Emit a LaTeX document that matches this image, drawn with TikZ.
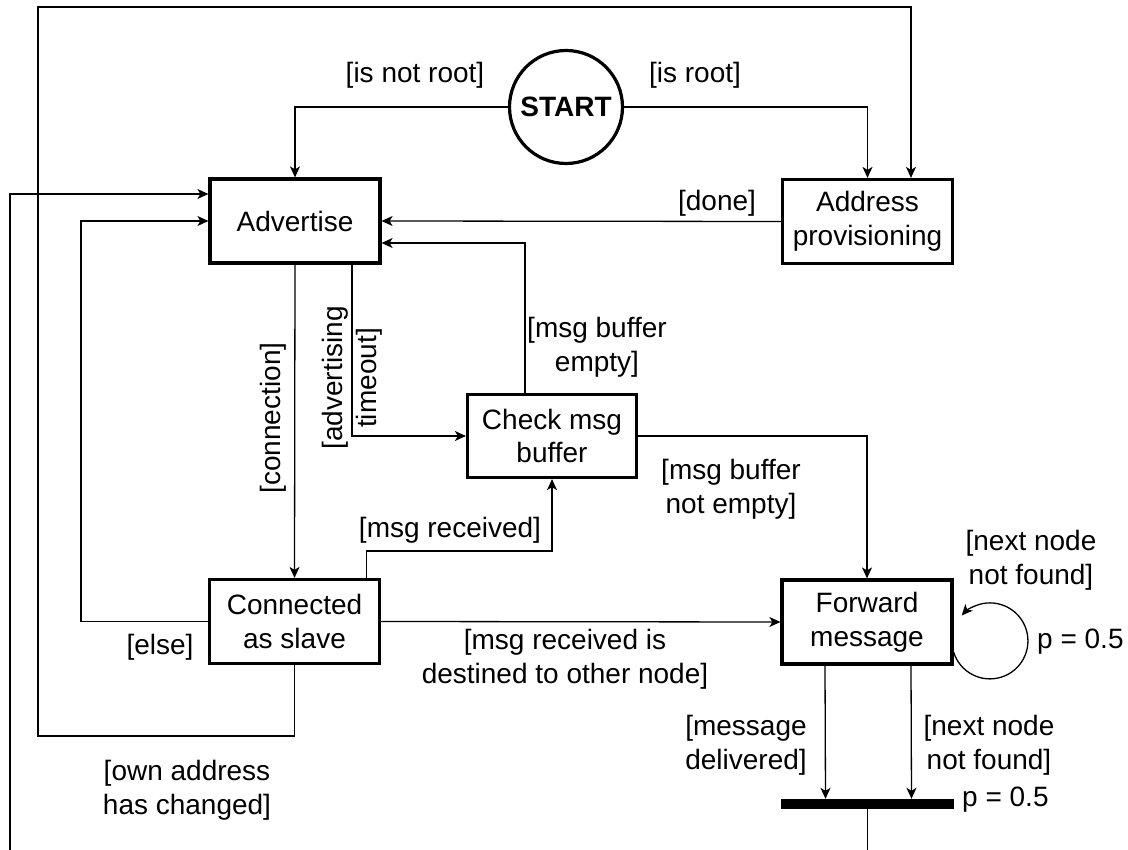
\documentclass[tikz,border=0pt]{standalone}
\usepackage{fontspec}
\setmainfont{Liberation Sans}
\usetikzlibrary{arrows.meta}
\begin{document}
\begin{tikzpicture}[x=1pt,y=-1pt,
  every node/.style={font=\fontsize{28}{33.6}\selectfont},
  state/.style={draw, line width=3.2pt, minimum width=170pt, minimum height=84pt,
    align=center, inner sep=0pt},
  conn/.style={line width=1.3pt, -{Stealth[length=11pt,width=10pt,inset=3pt]}},
  lbl/.style={align=center, inner sep=0pt}]
\useasboundingbox (0,0) rectangle (1128,850);

% states
\node[circle, draw, line width=3.2pt, minimum size=113pt, inner sep=0pt,
  font=\fontsize{28}{33.6}\selectfont\bfseries] (start) at (566,107) {START};
\node[state] (adv)  at (295,221)   {Advertise};
\node[state] (addr) at (867.5,221.5) {Address\\provisioning};
\node[state, minimum width=169pt, minimum height=83pt] (chk) at (552,436) {Check msg\\buffer};
\node[state] (con)  at (294.5,621.5) {Connected\\as slave};
\node[state] (fwd)  at (867,622)   {Forward\\message};
\node[fill, minimum width=173pt, minimum height=10pt, inner sep=0pt] (bar) at (867.5,804) {};

% transitions
\draw[conn] (start.west) -| (adv.north);
\draw[conn] (start.east) -| (addr.north);
\draw[conn] (addr.west) -- (adv.east);
\draw[conn] (adv.south) -- (con.north);
\draw[conn] ([xshift=57pt]adv.south) |- (chk.west);
\draw[conn] ([xshift=-27pt]chk.north) |- ([yshift=-22pt]adv.east);
\draw[conn] (chk.east) -| (fwd.north);
\draw[conn] ([xshift=72pt]con.north) -- ++(0,-27) -| (chk.south);
\draw[conn] (con.east) -- (fwd.west);
\draw[conn] (con.west) -- ++(-127,0) |- (adv.west);
\draw[conn] (con.south) -- ++(0,71) -| (38,7) -| ([xshift=43.5pt]addr.north);
\draw[conn] (bar.south) -- ++(0,60) -| (10,194) -- ([yshift=27pt]adv.west);
\draw[conn] ([yshift=-30pt]fwd.east) arc (163:-138:38);
\draw[conn] ([xshift=-42pt]fwd.south) -- ([xshift=-42pt]bar.north);
\draw[conn] ([xshift=44pt]fwd.south) -- ([xshift=44pt]bar.north);

% guards
\node[lbl] (gnotroot) at (415,75) {[is not root]};
\node[lbl] (groot) at (695,75) {[is root]};
\node[lbl] (gdone) at (717,203) {[done]};
\node[lbl, rotate=90] (gconn) at (273,418) {[connection]};
\node[lbl, rotate=90] (gadv) at (352,378) {[advertising\\timeout]};
\node[lbl] (gempty) at (597,347) {[msg buffer\\empty]};
\node[lbl] (gnotempty) at (731,489) {[msg buffer\\not empty]};
\node[lbl] (grecv) at (450,530) {[msg received]};
\node[lbl] (gdest) at (565,659) {[msg received is\\destined to other node]};
\node[lbl] (gelse) at (160,647) {[else]};
\node[lbl] (gown) at (187,790) {[own address\\has changed]};
\node[lbl] (gdeliv) at (746,745) {[message\\delivered]};
\node[lbl] (gnf1) at (989,745) {[next node\\not found]};
\node[lbl] (gnf2) at (1031,560) {[next node\\not found]};
\node[lbl, anchor=west] (pbar) at (962,800) {p = 0.5};
\node[lbl, anchor=west] (ploop) at (1037,642) {p = 0.5};
\end{tikzpicture}
\end{document}
